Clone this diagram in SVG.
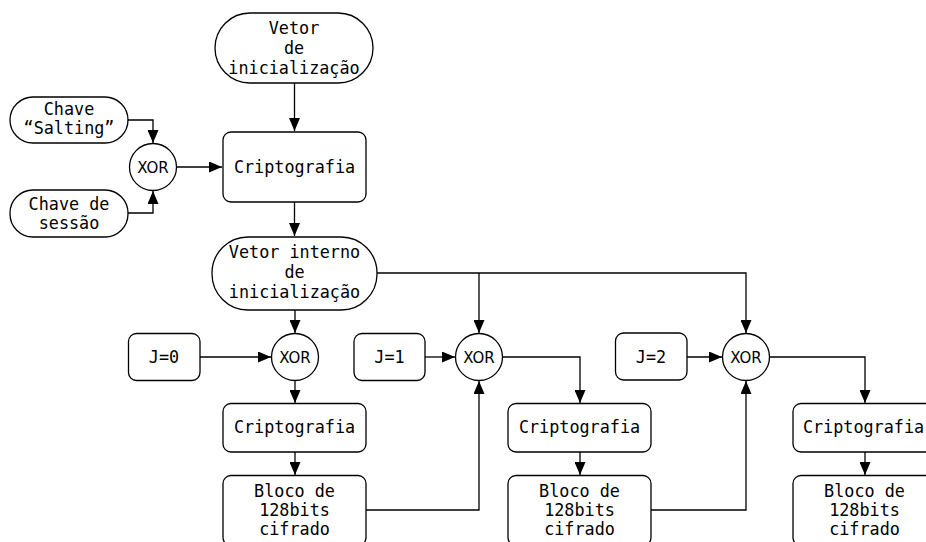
<svg xmlns="http://www.w3.org/2000/svg" width="926" height="542" viewBox="0 0 926 542">
<style>
.n{fill:#fff;stroke:#000;stroke-width:1.3}
.t{font-family:"DejaVu Sans Mono","Liberation Mono",monospace;font-size:16.8px;text-anchor:middle;fill:#000}
.x{font-family:"DejaVu Sans",sans-serif;font-size:15px;text-anchor:middle;fill:#000}
.c{fill:none;stroke:#000;stroke-width:1.3}
</style>
<defs>
<marker id="a" markerUnits="userSpaceOnUse" markerWidth="14" markerHeight="11" refX="13" refY="5.5" orient="auto">
<path d="M0,0 L13,5.5 L0,11 z" fill="#000"/>
</marker>
</defs>
<rect width="926" height="542" fill="#fff"/>
<g id="connectors">
<path class="c" d="M294.5 83 V131" marker-end="url(#a)"/>
<path class="c" d="M294.5 202 V236" marker-end="url(#a)"/>
<path class="c" d="M128 120 H153 V143" marker-end="url(#a)"/>
<path class="c" d="M128 213 H153 V191" marker-end="url(#a)"/>
<path class="c" d="M176.5 167 H222" marker-end="url(#a)"/>
<path class="c" d="M295 310 V333" marker-end="url(#a)"/>
<path class="c" d="M377 273 H746 V333" marker-end="url(#a)"/>
<path class="c" d="M479 273 V333" marker-end="url(#a)"/>
<path class="c" d="M200 357 H271" marker-end="url(#a)"/>
<path class="c" d="M295 381 V403" marker-end="url(#a)"/>
<path class="c" d="M295 452 V475" marker-end="url(#a)"/>
<path class="c" d="M366 510 H479 V381" marker-end="url(#a)"/>
<path class="c" d="M425 357 H455" marker-end="url(#a)"/>
<path class="c" d="M503 357 H580 V403" marker-end="url(#a)"/>
<path class="c" d="M580 452 V475" marker-end="url(#a)"/>
<path class="c" d="M651 510 H746 V381" marker-end="url(#a)"/>
<path class="c" d="M687 357 H722" marker-end="url(#a)"/>
<path class="c" d="M769.5 357 H865 V403" marker-end="url(#a)"/>
<path class="c" d="M865 452 V475" marker-end="url(#a)"/>
</g>
<g id="vetor-init">
<rect class="n" x="215" y="13" width="158" height="70" rx="35"/>
<text class="t" x="294" y="33.5">Vetor</text>
<text class="t" x="294" y="53.5">de</text>
<text class="t" x="294" y="73.5">inicialização</text>
</g>
<g id="chave-salting">
<rect class="n" x="10" y="97" width="118" height="46" rx="23"/>
<text class="t" x="69" y="115">Chave</text>
<text class="t" x="69" y="134">“Salting”</text>
</g>
<g id="chave-sessao">
<rect class="n" x="10" y="190" width="118" height="47" rx="23"/>
<text class="t" x="69" y="210">Chave de</text>
<text class="t" x="69" y="229">sessão</text>
</g>
<g id="xor0">
<circle class="n" cx="153" cy="167" r="23.5"/>
<text class="x" x="153" y="172.5">XOR</text>
</g>
<g id="cripto0">
<rect class="n" x="223" y="132" width="143" height="70" rx="8"/>
<text class="t" x="294.5" y="173">Criptografia</text>
</g>
<g id="vetor-interno">
<rect class="n" x="212" y="237" width="165" height="73" rx="36"/>
<text class="t" x="294.5" y="258">Vetor interno</text>
<text class="t" x="294.5" y="278">de</text>
<text class="t" x="294.5" y="298">inicialização</text>
</g>
<g id="j0">
<rect class="n" x="128.5" y="333.5" width="71.5" height="47" rx="8"/>
<text class="t" x="164" y="362.5">J=0</text>
</g>
<g id="xor1">
<circle class="n" cx="295" cy="357" r="23.5"/>
<text class="x" x="295" y="362.5">XOR</text>
</g>
<g id="cripto1">
<rect class="n" x="223" y="403.5" width="143" height="48.5" rx="8"/>
<text class="t" x="294.5" y="433">Criptografia</text>
</g>
<g id="bloco1">
<rect class="n" x="223" y="475.5" width="143" height="70" rx="8"/>
<text class="t" x="294.5" y="497">Bloco de</text>
<text class="t" x="294.5" y="516">128bits</text>
<text class="t" x="294.5" y="535">cifrado</text>
</g>
<g id="j1">
<rect class="n" x="354" y="333.5" width="71" height="47" rx="8"/>
<text class="t" x="389.5" y="362.5">J=1</text>
</g>
<g id="xor2">
<circle class="n" cx="479" cy="357" r="23.5"/>
<text class="x" x="479" y="362.5">XOR</text>
</g>
<g id="cripto2">
<rect class="n" x="508" y="403.5" width="143" height="48.5" rx="8"/>
<text class="t" x="579.5" y="433">Criptografia</text>
</g>
<g id="bloco2">
<rect class="n" x="508" y="475.5" width="143" height="70" rx="8"/>
<text class="t" x="579.5" y="497">Bloco de</text>
<text class="t" x="579.5" y="516">128bits</text>
<text class="t" x="579.5" y="535">cifrado</text>
</g>
<g id="j2">
<rect class="n" x="615.5" y="333" width="71.5" height="47" rx="8"/>
<text class="t" x="651" y="362.5">J=2</text>
</g>
<g id="xor3">
<circle class="n" cx="746" cy="357" r="23.5"/>
<text class="x" x="746" y="362.5">XOR</text>
</g>
<g id="cripto3">
<rect class="n" x="793" y="403.5" width="143" height="48.5" rx="8"/>
<text class="t" x="863.5" y="433">Criptografia</text>
</g>
<g id="bloco3">
<rect class="n" x="793" y="475.5" width="143" height="70" rx="8"/>
<text class="t" x="864.5" y="497">Bloco de</text>
<text class="t" x="864.5" y="516">128bits</text>
<text class="t" x="864.5" y="535">cifrado</text>
</g>
</svg>
